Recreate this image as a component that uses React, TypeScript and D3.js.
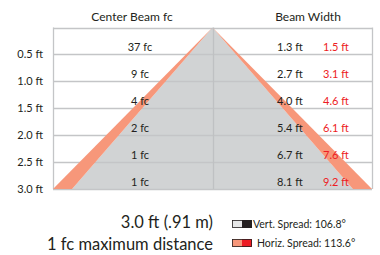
import React from "react";
import * as d3 from "d3";

const distances = [0.5, 1.0, 1.5, 2.0, 2.5, 3.0];
const distanceLabels = ["0.5 ft", "1.0 ft", "1.5 ft", "2.0 ft", "2.5 ft", "3.0 ft"];
const centerBeamFc = [37, 9, 4, 2, 1, 1];
const vertBeamWidth = [1.3, 2.7, 4.0, 5.4, 6.7, 8.1];
const horizBeamWidth = [1.5, 3.1, 4.6, 6.1, 7.6, 9.2];
const legendItems = [
  { label: "Vert. Spread: 106.8°", c1: "#e6e7e8", c2: "#231f20" },
  { label: "Horiz. Spread: 113.6°", c1: "#f7977a", c2: "#ed1c24" },
];

const W = 380;
const H = 255;
const FONT = "Lato, 'Open Sans', sans-serif";
const TEXT = "#231f20";
const RED = "#ed1c24";
const ORANGE = "#f7977a";
const GRAYFILL = "#d1d3d4";
const GRID = "#c4c5c7";

export default function App() {
  const maxD = d3.max(distances) as number;
  const maxH = (d3.max(horizBeamWidth) as number) / 2;
  const maxV = (d3.max(vertBeamWidth) as number) / 2;
  const x = d3.scaleLinear().domain([-maxH, maxH]).range([53, 372]);
  const y = d3.scaleLinear().domain([0, maxD]).range([27.5, 189]);
  const cx = x(0);
  const top = y(0);
  const bot = y(maxD);
  const crisp = (v: number) => Math.round(v) + 0.5;

  const grayPts: [number, number][] = [
    [cx, top],
    [x(-maxV), bot],
    [x(maxV), bot],
  ];
  const leftBand: [number, number][] = [
    [cx, top],
    [x(-maxH), bot],
    [x(-maxV), bot],
  ];
  const rightBand: [number, number][] = [
    [cx, top],
    [x(maxV), bot],
    [x(maxH), bot],
  ];
  const poly = (pts: [number, number][]) => (d3.line()(pts) as string) + "Z";

  return (
    <svg width={W} height={H} style={{ position: "absolute", left: 0, top: 0 }} fontFamily={FONT}>
      <rect width={W} height={H} fill="#fff" />
      {/* headers */}
      <text x={132} y={21} textAnchor="middle" fontSize={12} fill={TEXT}>
        Center Beam fc
      </text>
      <text x={308} y={21} textAnchor="middle" fontSize={12} fill={TEXT}>
        Beam Width
      </text>

      {/* gray vertical spread triangle */}
      <path d={poly(grayPts)} fill={GRAYFILL} />

      {/* grid */}
      <line x1={x(-maxH)} x2={x(maxH)} y1={crisp(top)} y2={crisp(top)} stroke={GRID} strokeWidth={1.3} />
      {distances.map((d) => (
        <line key={d} x1={x(-maxH)} x2={x(maxH)} y1={crisp(y(d))} y2={crisp(y(d))} stroke={GRID} strokeWidth={1.3} />
      ))}
      <line x1={crisp(x(-maxH))} x2={crisp(x(-maxH))} y1={top} y2={bot} stroke={GRID} strokeWidth={1.3} />
      <line x1={crisp(x(maxH))} x2={crisp(x(maxH))} y1={top} y2={bot} stroke={GRID} strokeWidth={1.3} />
      <line x1={crisp(cx)} x2={crisp(cx)} y1={top} y2={bot} stroke="#bfc1c3" strokeWidth={1.3} />

      {/* horizontal spread bands */}
      <path d={poly(leftBand)} fill={ORANGE} />
      <path d={poly(rightBand)} fill={ORANGE} />

      {/* tick labels */}
      {distances.map((d, i) => (
        <text key={d} x={43} y={y(d)} dy="0.35em" textAnchor="end" fontSize={11} fill={TEXT}>
          {distanceLabels[i]}
        </text>
      ))}

      {/* center beam fc */}
      {distances.map((d, i) => (
        <text key={d} x={140} y={y(d) - 3.5} textAnchor="middle" fontSize={11} fill={TEXT}>
          {centerBeamFc[i]} fc
        </text>
      ))}

      {/* beam widths */}
      {distances.map((d, i) => (
        <text key={d} x={277} y={y(d) - 3.5} textAnchor="start" fontSize={11} fill={TEXT}>
          {vertBeamWidth[i].toFixed(1)} ft
        </text>
      ))}
      {distances.map((d, i) => (
        <text key={d} x={323} y={y(d) - 3.5} textAnchor="start" fontSize={11} fill={RED}>
          {horizBeamWidth[i].toFixed(1)} ft
        </text>
      ))}

      {/* bottom text */}
      <text x={213} y={228} textAnchor="end" fontSize={16.5} fill={TEXT}>
        3.0 ft (.91 m)
      </text>
      <text x={213} y={250} textAnchor="end" fontSize={16.5} fill={TEXT}>
        1 fc maximum distance
      </text>

      {/* legend */}
      {legendItems.map((it, i) => {
        const ly = 220 + i * 19;
        return (
          <g key={it.label}>
            <rect x={232} y={ly} width={10} height={8} fill={it.c1} />
            <rect x={242} y={ly} width={10} height={8} fill={it.c2} />
            <rect x={232.5} y={ly + 0.5} width={19} height={7} fill="none" stroke={TEXT} strokeWidth={0.8} />
            <text x={i === 0 ? 253 : 257} y={ly + 4} dy="0.35em" fontSize={10.5} fill={TEXT}>
              {it.label}
            </text>
          </g>
        );
      })}
    </svg>
  );
}
